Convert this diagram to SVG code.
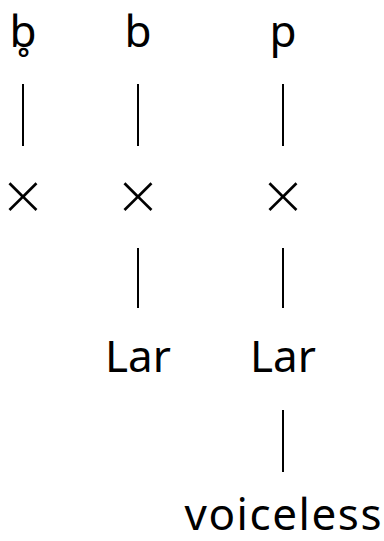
<svg xmlns="http://www.w3.org/2000/svg" width="384" height="541" viewBox="0 0 384 541">
<style>
text{font-family:"Noto Sans","Open Sans",sans-serif;font-size:44px;fill:#000;text-anchor:middle}
text.x{font-family:"DejaVu Sans",sans-serif;font-size:56px;font-weight:200}
.c line{stroke:#000;stroke-width:2}
</style>
<rect width="384" height="541" fill="#fff"/>
<g id="n-b-ring"><text x="23" y="47">b̥</text></g>
<g id="n-b"><text x="138" y="47">b</text></g>
<g id="n-p"><text x="283" y="47">p</text></g>
<g id="n-x1"><text class="x" x="23" y="214">×</text></g>
<g id="n-x2"><text class="x" x="138" y="214">×</text></g>
<g id="n-x3"><text class="x" x="283" y="214">×</text></g>
<g id="n-lar1"><text x="138" y="372">Lar</text></g>
<g id="n-lar2"><text x="283" y="372">Lar</text></g>
<g id="n-voiceless"><text x="283" y="530" textLength="197" lengthAdjust="spacing">voiceless</text></g>
<g class="c" id="connectors">
<line x1="23" y1="84" x2="23" y2="146"/>
<line x1="138" y1="84" x2="138" y2="146"/>
<line x1="283" y1="84" x2="283" y2="146"/>
<line x1="138" y1="248" x2="138" y2="308"/>
<line x1="283" y1="248" x2="283" y2="308"/>
<line x1="283" y1="410" x2="283" y2="472"/>
</g>
</svg>
